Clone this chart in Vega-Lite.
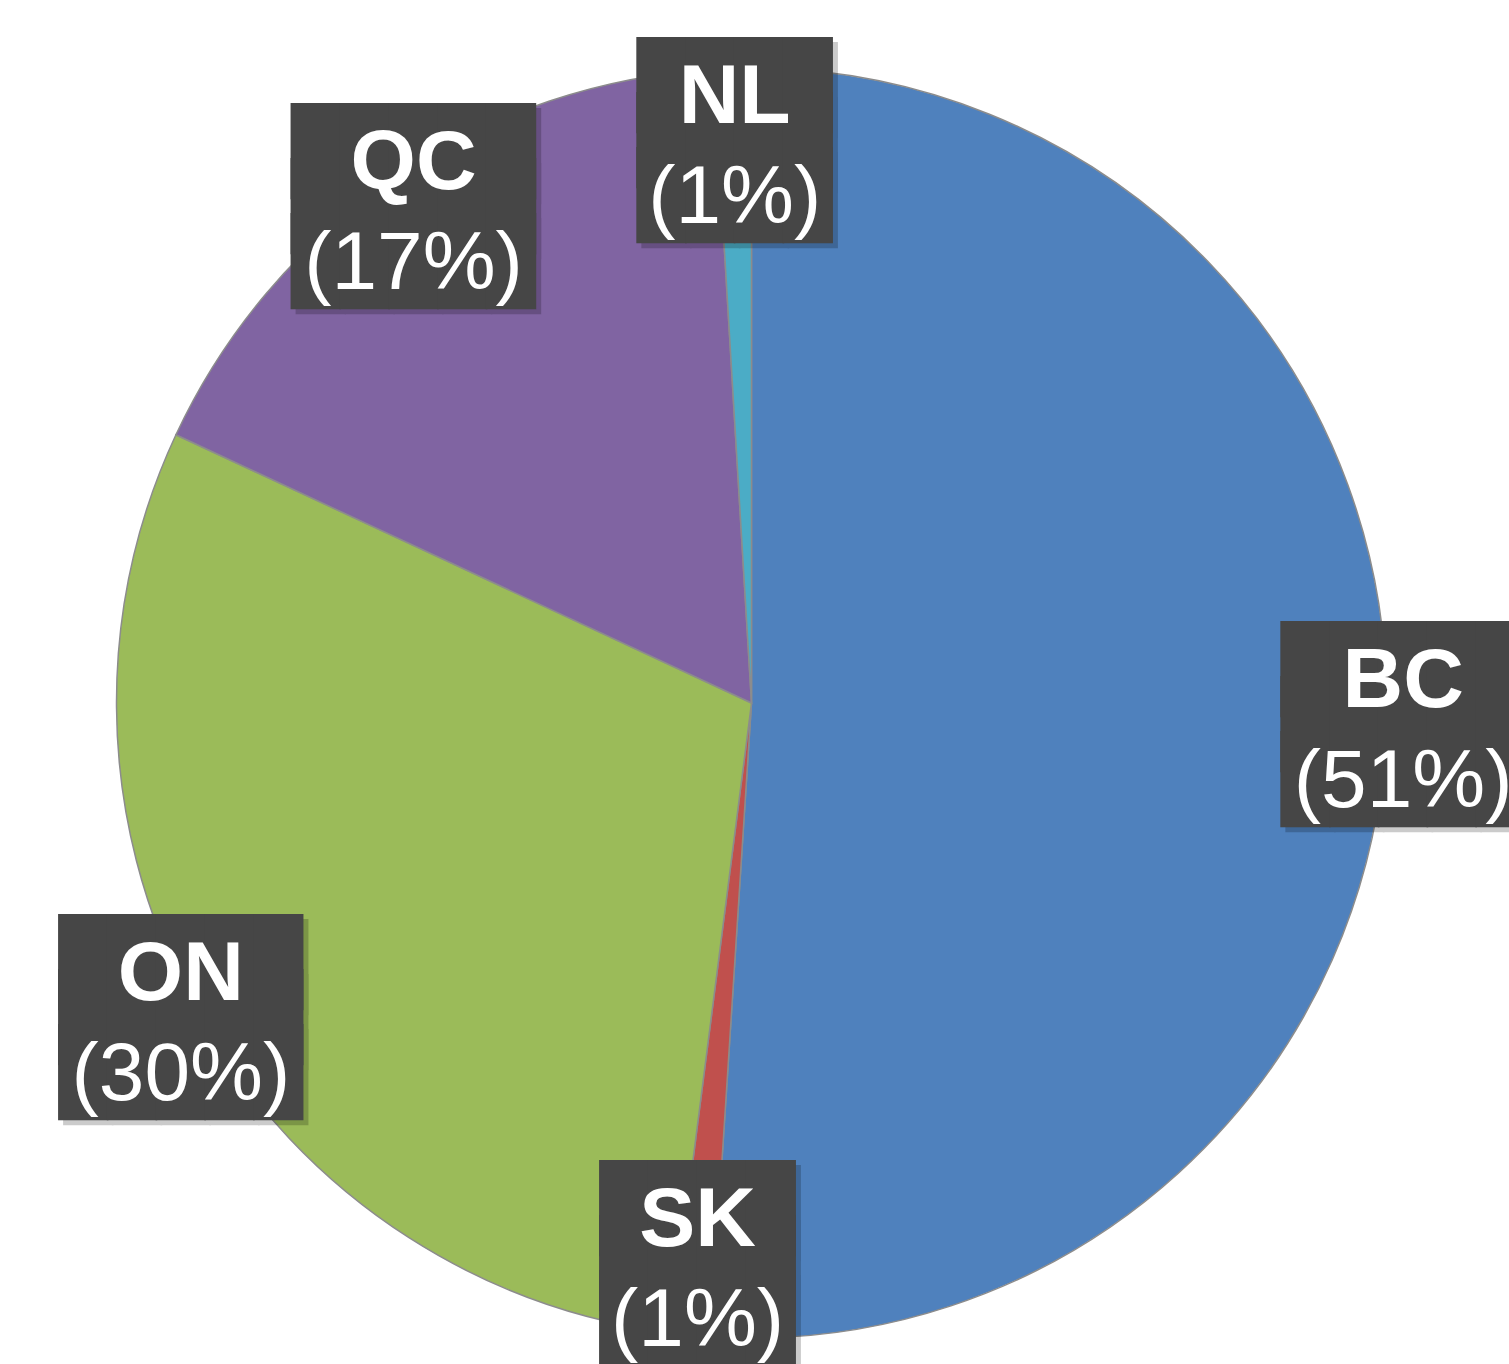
{
  "$schema": "https://vega.github.io/schema/vega-lite/v6.json",
  "width": 1503,
  "height": 1322,
  "autosize": {"type": "none"},
  "padding": {"left": 0, "top": 42, "right": 6, "bottom": 0},
  "background": "white",
  "config": {"view": {"stroke": null}},
  "data": {
    "values": [
      {"province": "BC", "share": 51.0, "label": "(51%)"},
      {"province": "SK", "share": 1.0, "label": "(1%)"},
      {"province": "ON", "share": 29.9, "label": "(30%)"},
      {"province": "QC", "share": 17.1, "label": "(17%)"},
      {"province": "NL", "share": 0.95, "label": "(1%)"}
    ]
  },
  "transform": [{"window": [{"op": "row_number", "as": "idx"}]}],
  "encoding": {
    "theta": {"field": "share", "type": "quantitative", "stack": true},
    "order": {"field": "idx", "type": "quantitative"},
    "detail": {"field": "province", "type": "nominal"}
  },
  "layer": [
    {
      "mark": {"type": "arc", "outerRadius": 635, "stroke": "#8c8c8c", "strokeWidth": 1.5},
      "encoding": {
        "color": {
          "field": "province",
          "type": "nominal",
          "scale": {"domain": ["BC", "SK", "ON", "QC", "NL"], "range": ["#4F81BD", "#C0504D", "#9BBB59", "#8064A2", "#4BACC6"]},
          "legend": null
        }
      }
    },
    {
      "mark": {"type": "text", "font": "DejaVu Sans Mono", "fontSize": 81, "lineHeight": 55, "baseline": "middle", "align": "center", "color": "#000000", "opacity": 0.2, "dx": 5, "dy": -46},
      "encoding": {
        "radius": {"field": "share", "type": "quantitative", "scale": {"type": "pow", "exponent": 1.5, "domain": [1, 30], "range": [563, 652], "clamp": true}},
        "text": {"condition": {"test": "datum.share < 5", "value": ["████", "████", "████"]}, "value": ["█████", "█████", "█████"]}
      }
    },
    {
      "mark": {"type": "text", "font": "DejaVu Sans Mono", "fontSize": 81, "lineHeight": 55, "baseline": "middle", "align": "center", "color": "#464646", "dy": -51},
      "encoding": {
        "radius": {"field": "share", "type": "quantitative", "scale": {"type": "pow", "exponent": 1.5, "domain": [1, 30], "range": [563, 652], "clamp": true}},
        "text": {"condition": {"test": "datum.share < 5", "value": ["████", "████", "████"]}, "value": ["█████", "█████", "█████"]}
      }
    },
    {
      "mark": {"type": "text", "font": "Liberation Sans", "fontWeight": "bold", "fontSize": 84, "baseline": "alphabetic", "align": "center", "dy": -17, "color": "#ffffff"},
      "encoding": {
        "radius": {"field": "share", "type": "quantitative", "scale": {"type": "pow", "exponent": 1.5, "domain": [1, 30], "range": [563, 652], "clamp": true}},
        "text": {"field": "province"}
      }
    },
    {
      "mark": {"type": "text", "font": "Liberation Sans", "fontSize": 82, "baseline": "alphabetic", "align": "center", "dy": 83, "color": "#ffffff"},
      "encoding": {
        "radius": {"field": "share", "type": "quantitative", "scale": {"type": "pow", "exponent": 1.5, "domain": [1, 30], "range": [563, 652], "clamp": true}},
        "text": {"field": "label"}
      }
    }
  ]
}
